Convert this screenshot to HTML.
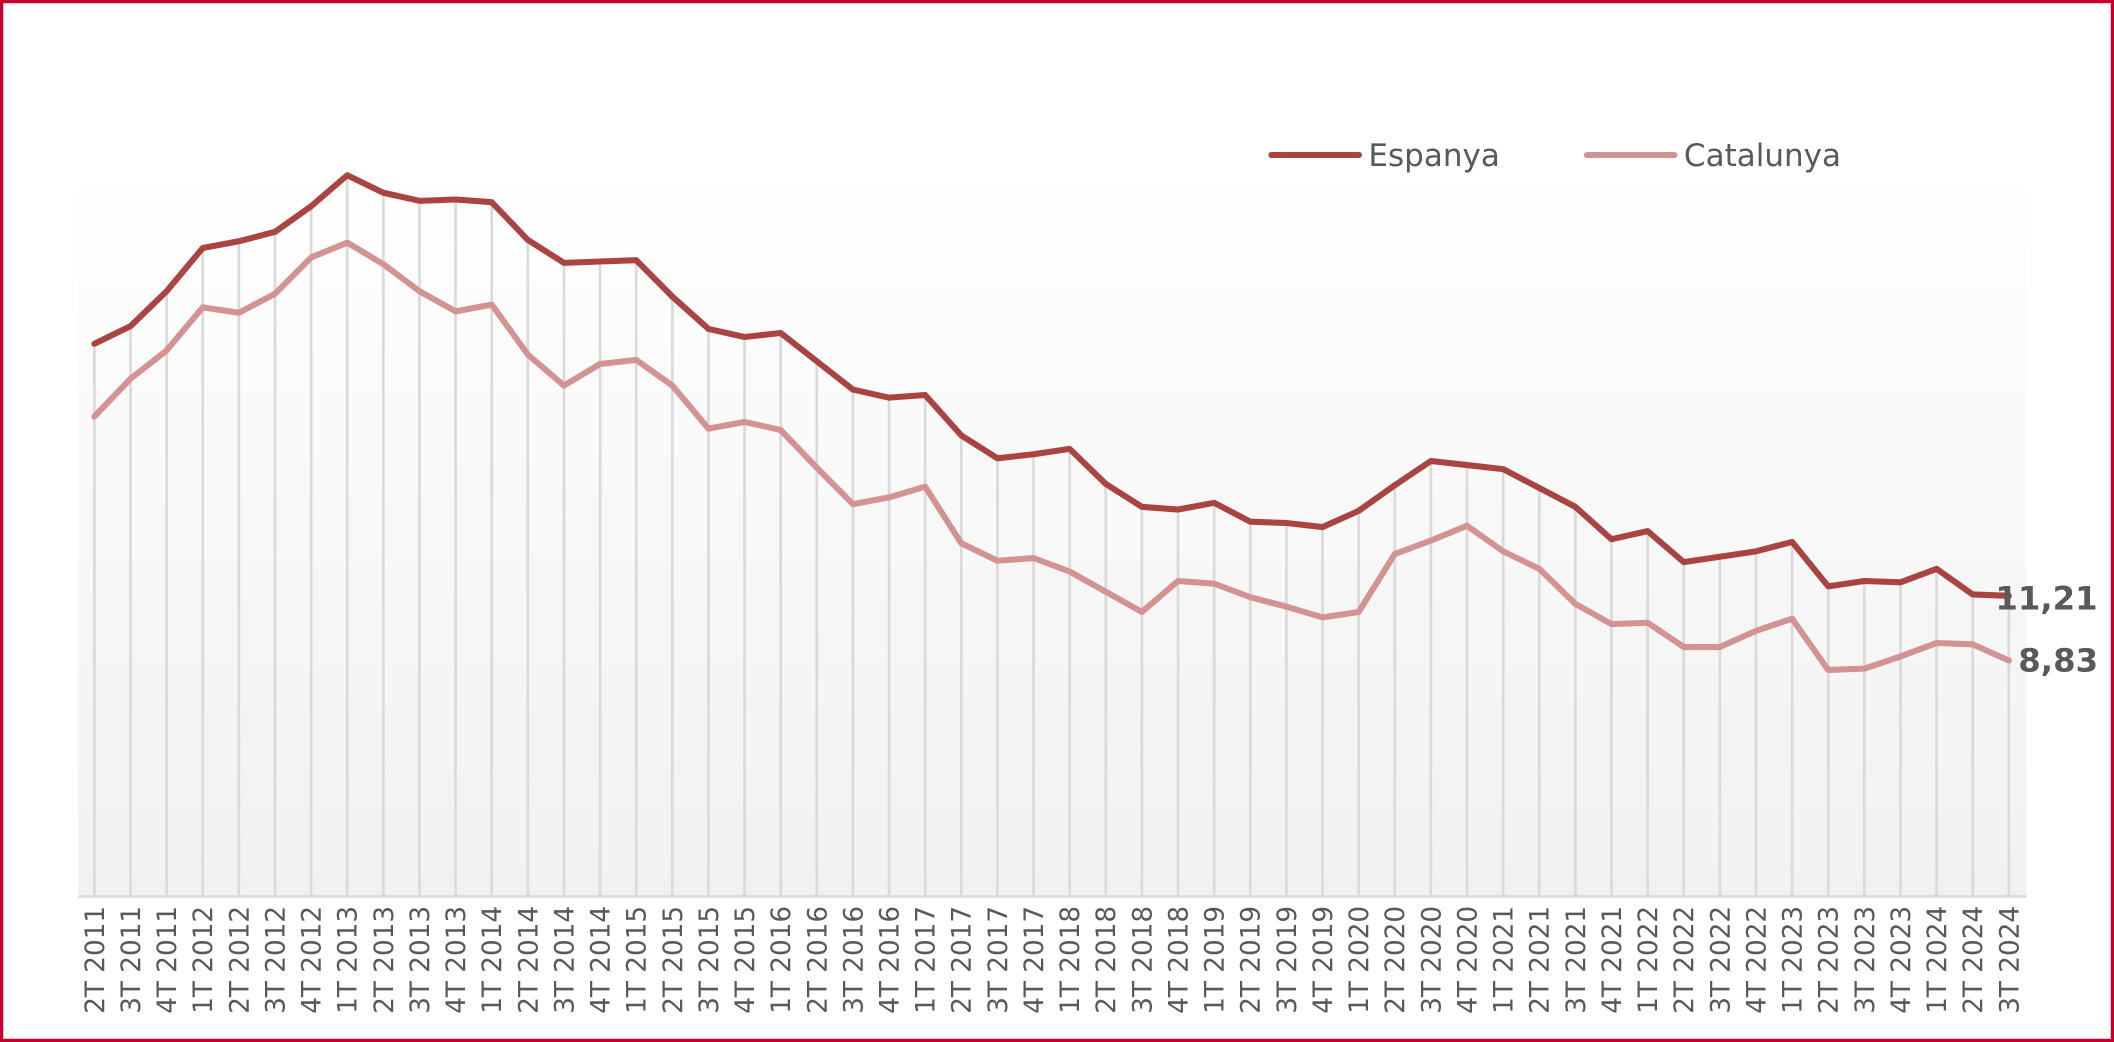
<!DOCTYPE html>
<html><head><meta charset="utf-8"><style>html,body{margin:0;padding:0;background:#fff}svg{display:block}</style></head>
<body>
<svg id="c" width="2114" height="1042" viewBox="0 0 1568 773" preserveAspectRatio="none" xmlns="http://www.w3.org/2000/svg" font-family="'DejaVu Sans','Liberation Sans',sans-serif">
<defs><linearGradient id="g" x1="0" y1="0" x2="0" y2="1"><stop offset="0" stop-color="#ffffff"/><stop offset="1" stop-color="#f1f1f1"/></linearGradient></defs>
<rect x="1.2" y="1.2" width="1565.6" height="770.6" fill="#fff" stroke="#c8002d" stroke-width="2.4"/>
<rect x="58" y="120" width="1445" height="545" fill="url(#g)"/>
<g id="grid" stroke="#dadada" stroke-width="2"></g>
<line x1="58" y1="665" x2="1503" y2="665" stroke="#d9d9d9" stroke-width="2"/>
<polyline id="cat" fill="none" stroke="#d39392" stroke-width="4.5" stroke-linejoin="round" stroke-linecap="round"/>
<polyline id="esp" fill="none" stroke="#aa4443" stroke-width="4.5" stroke-linejoin="round" stroke-linecap="round"/>
<g id="lab" font-size="19.5" fill="#595959"></g>
<line x1="943" y1="115" x2="1008" y2="115" stroke="#aa4443" stroke-width="4.5" stroke-linecap="round"/>
<text x="1015" y="123" font-size="23" fill="#595959">Espanya</text>
<line x1="1177" y1="115" x2="1242" y2="115" stroke="#d39392" stroke-width="4.5" stroke-linecap="round"/>
<text x="1249" y="123" font-size="23" fill="#595959">Catalunya</text>
<text x="1480" y="452" font-size="24" font-weight="bold" fill="#595959">11,21</text>
<text x="1497" y="498" font-size="24" font-weight="bold" fill="#595959">8,83</text>
</svg>
<script>
var E=[255,242,216,184,179,172,153,130,143,149,148,150,178,195,194,193,220,244,250,247,268,289,295,293,323,340,337,333,359,376,378,373,387,388,391,379,360,342,345,348,362,376,400,394,417,413,409,402,435,431,432,422,441,442];
var C=[309,281,260,228,232,218,191,180,196,216,231,226,263,286,270,267,286,318,313,319,347,374,369,361,403,416,414,424,439,454,431,433,443,450,458,454,411,401,390,409,422,448,463,462,480,480,468,459,497,496,487,477,478,490];
var ns="http://www.w3.org/2000/svg",g=document.getElementById("grid"),lab=document.getElementById("lab");
var pe=[],pc=[],q=2,y=2011;
for(var i=0;i<54;i++){var x=70+i*(1490-70)/53;pe.push(x+","+E[i]);pc.push(x+","+C[i]);
var l=document.createElementNS(ns,"line");l.setAttribute("x1",x);l.setAttribute("x2",x);l.setAttribute("y1",E[i]);l.setAttribute("y2",665);g.appendChild(l);
var t=document.createElementNS(ns,"text");t.setAttribute("transform","translate("+(x+7)+",672) rotate(-90)");t.setAttribute("text-anchor","end");t.textContent=q+"T "+y;lab.appendChild(t);
q++;if(q>4){q=1;y++;}}
document.getElementById("esp").setAttribute("points",pe.join(" "));
document.getElementById("cat").setAttribute("points",pc.join(" "));
</script>
</body></html>
